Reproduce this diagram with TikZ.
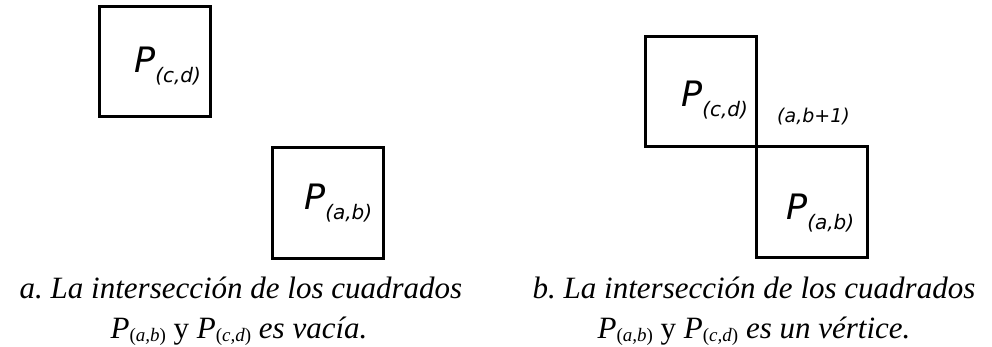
\documentclass[tikz,border=0pt]{standalone}
\usepackage{fontspec}
\setmainfont{Liberation Serif}
\newfontfamily\vfont{DejaVu Sans}
\frenchspacing
\newcommand\Plab[1]{{\vfont\itshape{\fontsize{35}{35}\selectfont P}\raisebox{-10pt}{\fontsize{20}{20}\selectfont(#1)}}}
\newcommand\Pcap[1]{\textit{P}\raisebox{-3pt}{\fontsize{19}{19}\selectfont\upshape(\textit{#1})}}
\tikzset{
  sq/.style={draw=black, line width=3pt, minimum width=111pt, minimum height=110pt, inner sep=0pt, outer sep=0pt},
  lab/.style={anchor=base west, inner sep=0pt},
  captext/.style={anchor=base, inner sep=0pt, font=\fontsize{31}{31}\selectfont\itshape}
}
\begin{document}
\begin{tikzpicture}[x=1pt,y=-1pt]
\useasboundingbox (0,0) rectangle (992,347);
% left panel
\node[sq] (lcd) at (155,61.5) {};
\node[sq] (lab) at (327.5,203) {};
\node[lab] (tlcd) at (134,73) {\Plab{c,d}};
\node[lab] (tlab) at (304,210) {\Plab{a,b}};
% right panel
\node[sq] (rcd) at (700.5,92) {};
\node[sq] (rab) at (811.5,202) {};
\node[lab] (trcd) at (681,107) {\Plab{c,d}};
\node[lab] (trab) at (786,219) {\Plab{a,b}};
\node[lab] (vtx) at (777,123) {\vfont\itshape\fontsize{19}{19}\selectfont(a,b+1)};
% captions
\node[captext] (ca1) at (241,298) {a. La intersección de los cuadrados};
\node[captext] (ca2) at (239,338) {\Pcap{a,b} {\upshape y} \Pcap{c,d} es vacía.};
\node[captext] (cb1) at (754,298) {b. La intersección de los cuadrados};
\node[captext] (cb2) at (754,338) {\Pcap{a,b} {\upshape y} \Pcap{c,d} es un vértice.};
\end{tikzpicture}
\end{document}
